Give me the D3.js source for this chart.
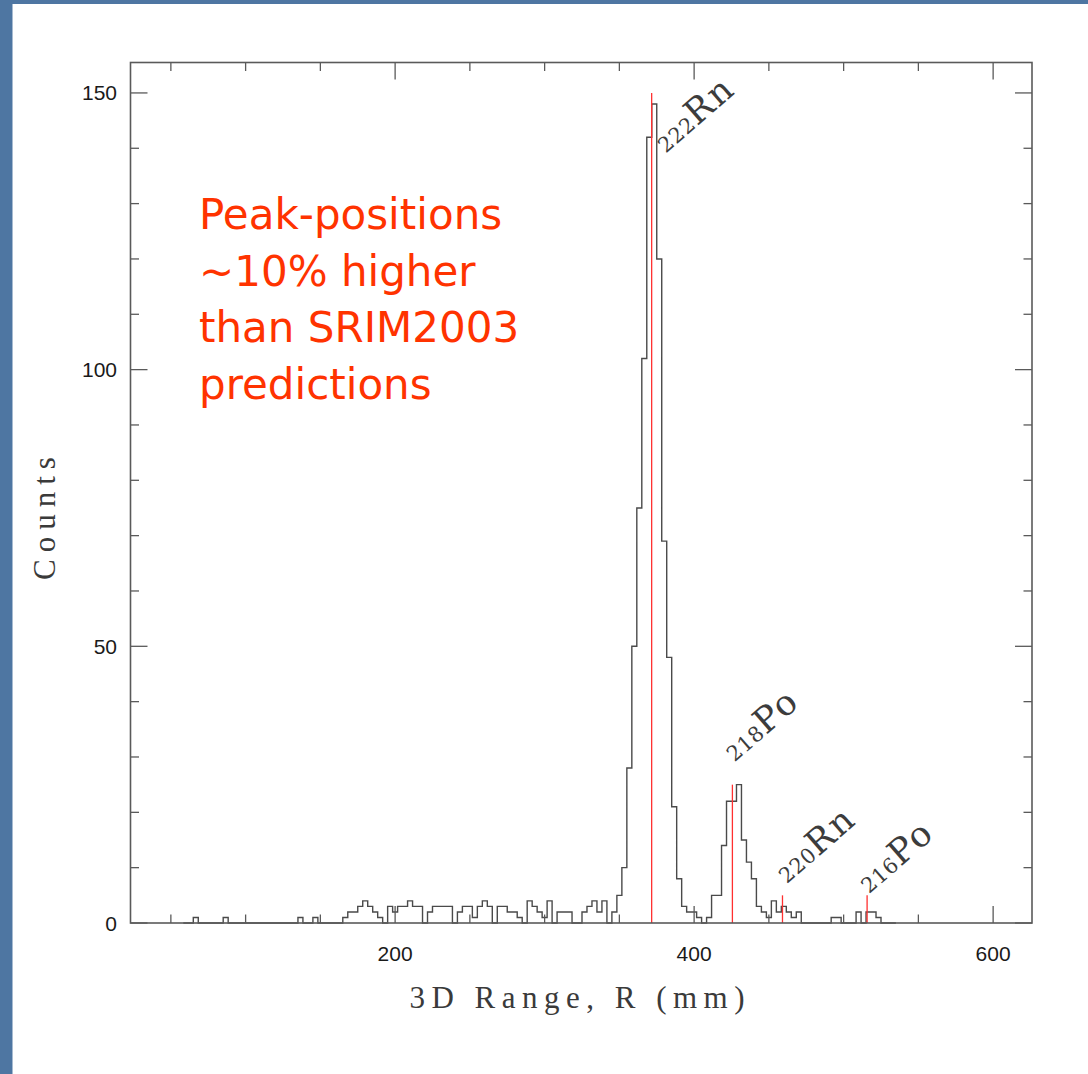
<!DOCTYPE html>
<html>
<head>
<meta charset="utf-8">
<script src="https://cdn.jsdelivr.net/npm/d3@7"></script>
<style>
  html, body { margin: 0; padding: 0; background: #4e76a2; }
  svg { display: block; }
</style>
</head>
<body>
<svg id="chart" width="1088" height="1074"></svg>
<script>
// Histogram of 3D track range; bins are 10/3 mm wide, centred on multiples of 10/3 mm.
const binWidth = 10 / 3;
const firstBinCenter = 60;          // centre of the first listed bin (mm)
const counts = [
  0, 0, 1, 0, 0, 0, 0, 0, 1, 0,     // 60 .. 90 mm
  0, 0, 0, 0, 0, 0, 0, 0, 0, 0,
  0, 0, 0, 1, 0, 0, 1, 0, 0, 0,
  0, 0, 1, 2, 2, 3, 4, 3, 2, 1,     // 166.7 mm ..
  0, 3, 2, 3, 3, 4, 3, 3, 0, 2,
  3, 3, 3, 3, 0, 2, 3, 3, 1, 3,
  4, 3, 0, 3, 3, 2, 2, 1, 0, 4,
  3, 2, 1, 4, 0, 2, 2, 2, 0, 0,
  2, 3, 4, 2, 4, 0, 2, 5, 10, 28,   // 326.7 mm ..
  50, 75, 102, 142, 148, 120, 69, 48, 21, 8,
  3, 2, 2, 1, 0, 1, 5, 5, 14, 22,
  22, 25, 15, 11, 8, 3, 2, 1, 4, 2,
  3, 2, 1, 2, 0, 0, 0, 0, 0, 0,
  1, 1, 0, 0, 0, 2, 0, 2, 2, 1,
  0, 0, 0
];

// Predicted peak positions (mm) and marker heights (counts)
const massNumber = ["222", "218", "220", "216"];
const element    = ["Rn", "Po", "Rn", "Po"];
const predRange  = [371.6, 425.6, 459.1, 515.7];
const predHeight = [150, 25, 5, 5];
// where each isotope label starts, in data units (mm, counts)
const labelAtR   = [381.0, 427.0, 462.0, 517.0];
const labelAtN   = [139, 29.0, 7.0, 5.2];

const xMajorTicks = [200, 400, 600];
const xMinorTicks = [50, 100, 150, 250, 300, 350, 450, 500, 550];
const yMajorTicks = [0, 50, 100, 150];
const yMinorTicks = [10, 20, 30, 40, 60, 70, 80, 90, 110, 120, 130, 140];

const xTitle = "3D Range, R (mm)";
const yTitle = "Counts";
const note = ["Peak-positions", "~10% higher", "than SRIM2003", "predictions"];

const svg = d3.select("#chart");
const W = 1088, H = 1074;

// slide background and white sheet
svg.append("rect").attr("width", W).attr("height", H).attr("fill", "#4e76a2");
svg.append("rect").attr("x", 12.5).attr("y", 4).attr("width", W - 12.5).attr("height", H - 4)
  .attr("fill", "#ffffff");

const plot = { left: 130.5, right: 1032, top: 62.5, bottom: 923 };
const x = d3.scaleLinear().domain([23, 626]).range([plot.left, plot.right]);
const y = d3.scaleLinear().domain([0, 155.5]).range([plot.bottom, plot.top]);

const frameColor = "#5a5a5a";
const majorLen = 17, minorLen = 8.5;

// histogram outline
const pts = [];
counts.forEach((c, i) => {
  const lo = firstBinCenter + (i - 0.5) * binWidth;
  const hi = lo + binWidth;
  pts.push([lo, c], [hi, c]);
});
pts.unshift([pts[0][0], 0]);
pts.push([pts[pts.length - 1][0], 0]);
svg.append("path")
  .attr("d", d3.line().x(d => x(d[0])).y(d => y(d[1]))(pts))
  .attr("fill", "none").attr("stroke", "#4a4a4a").attr("stroke-width", 1.4);

// predicted positions
svg.selectAll("line.pred").data(predRange).join("line")
  .attr("class", "pred")
  .attr("x1", d => x(d)).attr("x2", d => x(d))
  .attr("y1", y(0)).attr("y2", (d, i) => y(predHeight[i]))
  .attr("stroke", "#ff3030").attr("stroke-width", 1.3);

// frame
svg.append("rect")
  .attr("x", plot.left).attr("y", plot.top)
  .attr("width", plot.right - plot.left).attr("height", plot.bottom - plot.top)
  .attr("fill", "none").attr("stroke", frameColor).attr("stroke-width", 1.6);

// inward ticks on all four sides
const tickG = svg.append("g").attr("stroke", frameColor).attr("stroke-width", 1.3);
function xTicks(vals, len) {
  vals.forEach(v => {
    tickG.append("line").attr("x1", x(v)).attr("x2", x(v)).attr("y1", plot.bottom).attr("y2", plot.bottom - len);
    tickG.append("line").attr("x1", x(v)).attr("x2", x(v)).attr("y1", plot.top).attr("y2", plot.top + len);
  });
}
function yTicks(vals, len) {
  vals.forEach(v => {
    tickG.append("line").attr("y1", y(v)).attr("y2", y(v)).attr("x1", plot.left).attr("x2", plot.left + len);
    tickG.append("line").attr("y1", y(v)).attr("y2", y(v)).attr("x1", plot.right).attr("x2", plot.right - len);
  });
}
xTicks(xMajorTicks, majorLen); xTicks(xMinorTicks, minorLen);
yTicks(yMajorTicks, majorLen); yTicks(yMinorTicks, minorLen);

// tick labels
const tickFont = "'Liberation Sans', Arial, Helvetica, sans-serif";
svg.append("g").selectAll("text").data(xMajorTicks).join("text")
  .attr("x", d => x(d)).attr("y", 961)
  .attr("text-anchor", "middle")
  .attr("font-family", tickFont).attr("font-size", 21).attr("fill", "#1a1a1a")
  .text(d => d);
svg.append("g").selectAll("text").data(yMajorTicks).join("text")
  .attr("x", 117).attr("y", d => y(d))
  .attr("dy", "0.36em")
  .attr("text-anchor", "end")
  .attr("font-family", tickFont).attr("font-size", 21).attr("fill", "#1a1a1a")
  .text(d => d);

// axis titles
const serif = "'Liberation Serif', 'Times New Roman', serif";
svg.append("text")
  .attr("x", (plot.left + plot.right) / 2 - 1).attr("y", 1008)
  .attr("text-anchor", "middle")
  .attr("font-family", serif).attr("font-size", 31).attr("letter-spacing", 6.5)
  .attr("fill", "#3a3a3a")
  .text(xTitle);
svg.append("text")
  .attr("transform", "translate(55,515) rotate(-90)")
  .attr("text-anchor", "middle")
  .attr("font-family", serif).attr("font-size", 31).attr("letter-spacing", 7)
  .attr("fill", "#3a3a3a")
  .text(yTitle);

// isotope labels
const labelSerif = "'DejaVu Serif', serif";
massNumber.forEach((m, i) => {
  const t = svg.append("text")
    .attr("transform", `translate(${x(labelAtR[i])},${y(labelAtN[i])}) rotate(-41)`)
    .attr("font-family", labelSerif).attr("fill", "#3c3c3c");
  t.append("tspan").attr("font-size", 21).attr("letter-spacing", 0.5).text(m);
  t.append("tspan").attr("font-size", 35).attr("letter-spacing", 2).text(element[i]);
});

// annotation
const noteG = svg.append("text")
  .attr("font-family", "'DejaVu Sans', Verdana, sans-serif")
  .attr("font-size", 42).attr("fill", "#ff3300");
note.forEach((line, i) => {
  noteG.append("tspan").attr("x", 199).attr("y", 229 + i * 56.5).text(line);
});
</script>
</body>
</html>
